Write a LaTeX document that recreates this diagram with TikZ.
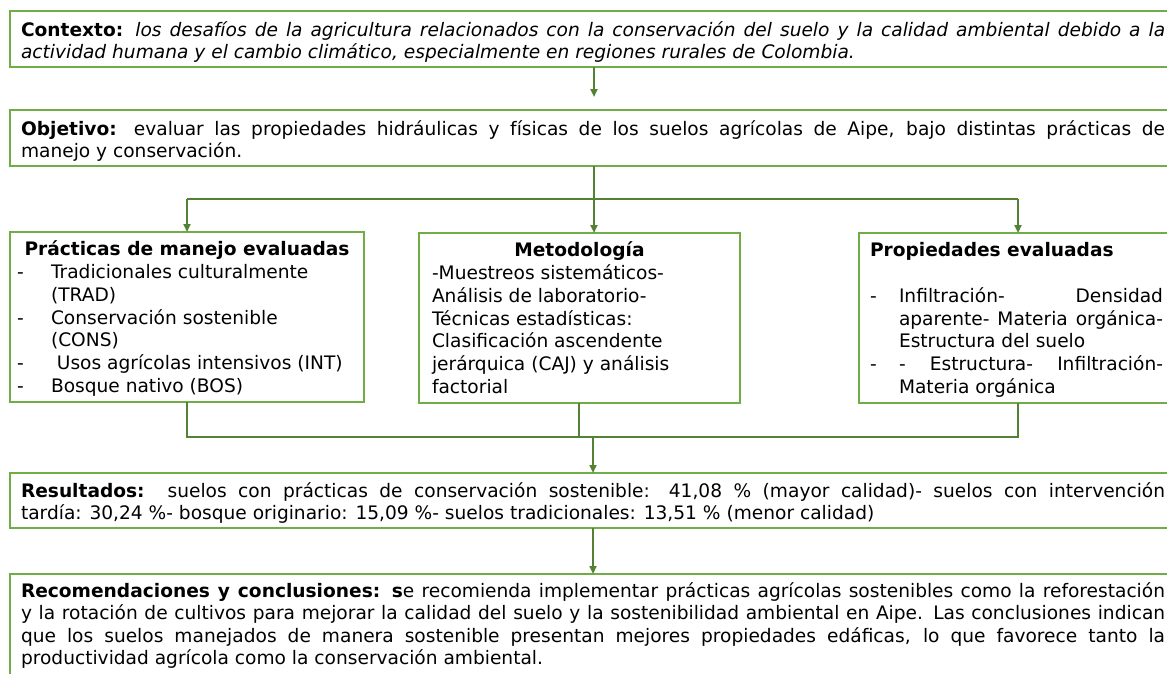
\documentclass[tikz,border=0pt]{standalone}
\usepackage{fontspec}
\setmainfont{DejaVu Sans}
\usetikzlibrary{arrows.meta,calc}
\definecolor{boxg}{RGB}{112,173,71}
\definecolor{lineg}{RGB}{84,130,53}
\newcommand{\bigfont}{\fontsize{18.6}{21}\selectfont}
\newcommand{\smallfont}{\fontsize{18.6}{22.8}\selectfont}
\newcommand{\bigtopstrut}{\rule{0pt}{22.7pt}}
\newcommand{\smalltopstrut}{\rule{0pt}{21pt}}
\newcommand{\jline}[1]{\makebox[1144pt][s]{\strut #1}}
\newcommand{\pline}[1]{\makebox[264pt][s]{\strut #1}}
\newcommand{\dsh}{\hspace*{3pt}\makebox[34pt][l]{\strut -}}
\newcommand{\ind}{\hspace*{37pt}\strut}
\newcommand{\pdsh}{\makebox[29pt][l]{\strut -}}
\newcommand{\pind}{\hspace*{29pt}\strut}
\begin{document}
\begin{tikzpicture}[x=1pt,y=-1pt,
  box/.style={draw=boxg,line width=2pt,fill=white,anchor=north west,
    inner ysep=0pt,outer sep=0pt,align=left},
  bigbox/.style={box,inner xsep=11pt,minimum width=1166pt,font=\bigfont},
  smallbox/.style={box,font=\smallfont,minimum height=170pt},
  conn/.style={draw=lineg,line width=2pt},
  arr/.style={conn,-{Triangle[length=8pt,width=7pt]}}]
\useasboundingbox (0,0) rectangle (1167,673);
\fill[white] (0,0) rectangle (1167,673);
\clip (0,0) rectangle (1167,673);

\node[bigbox,minimum height=56pt] (ctx) at (10,11) {%
\bigtopstrut\jline{\textbf{Contexto:} \textit{los desafíos de la agricultura relacionados con la conservación del suelo y la calidad ambiental debido a la}}\\
\strut\textit{actividad humana y el cambio climático, especialmente en regiones rurales de Colombia.}};

\node[bigbox,minimum height=56pt] (obj) at (10,110) {%
\bigtopstrut\jline{\textbf{Objetivo:} evaluar las propiedades hidráulicas y físicas de los suelos agrícolas de Aipe, bajo distintas prácticas de}\\
\strut manejo y conservación.};

\node[smallbox,inner xsep=4pt,minimum width=354pt] (prac) at (10,232) {%
\smalltopstrut\makebox[346pt][c]{\strut\textbf{Prácticas de manejo evaluadas}}\\
\dsh Tradicionales culturalmente\\
\ind (TRAD)\\
\dsh Conservación sostenible\\
\ind (CONS)\\
\dsh\ Usos agrícolas intensivos (INT)\\
\dsh Bosque nativo (BOS)};

\node[smallbox,inner xsep=13pt,minimum width=321pt] (met) at (419,233) {%
\smalltopstrut\makebox[295pt][c]{\strut\textbf{Metodología}}\\
\strut -Muestreos sistemáticos-\\
\strut Análisis de laboratorio-\\
\strut Técnicas estadísticas:\\
\strut Clasificación ascendente\\
\strut jerárquica (CAJ) y análisis\\
\strut factorial};

\node[smallbox,inner xsep=11pt,minimum width=315pt] (prop) at (859,233) {%
\smalltopstrut\strut\textbf{Propiedades evaluadas}\\
\strut\\
\pdsh\pline{Infiltración- Densidad}\\
\pind\pline{aparente- Materia orgánica-}\\
\pind Estructura del suelo\\
\pdsh\pline{- Estructura- Infiltración-}\\
\pind Materia orgánica};

\node[bigbox,minimum height=55pt] (res) at (10,473) {%
\bigtopstrut\jline{\textbf{Resultados:}\ \ suelos con prácticas de conservación sostenible: 41,08 \% (mayor calidad)- suelos con intervención}\\
\strut tardía: 30,24 \%- bosque originario: 15,09 \%- suelos tradicionales: 13,51 \% (menor calidad)};

\node[bigbox,inner ysep=1pt] (rec) at (10,574) {%
\bigtopstrut\jline{\textbf{Recomendaciones y conclusiones: s}e recomienda implementar prácticas agrícolas sostenibles como la reforestación}\\
\jline{y la rotación de cultivos para mejorar la calidad del suelo y la sostenibilidad ambiental en Aipe. Las conclusiones indican}\\
\jline{que los suelos manejados de manera sostenible presentan mejores propiedades edáficas, lo que favorece tanto la}\\
\strut productividad agrícola como la conservación ambiental.\\
\strut};

% column coordinates
\coordinate (cx) at (594,0);
\coordinate (px) at (187,0);
\coordinate (mx) at (579,0);
\coordinate (qx) at (1018,0);
\coordinate (jt) at (594,199);
\coordinate (jb) at (593,437);

\draw[arr] (ctx.south -| cx) -- ($(obj.north -| cx)+(0,-13)$);
\draw[conn] (obj.south -| cx) -- (jt);
\draw[conn] (jt -| px) -- (jt -| qx);
\draw[arr] (jt -| px) -- (prac.north -| px);
\draw[arr] (jt) -- (met.north -| jt);
\draw[arr] (jt -| qx) -- (prop.north -| qx);

\draw[conn] (prac.south -| px) -- (jb -| px) -- (jb -| qx) -- (prop.south -| qx);
\draw[conn] (met.south -| mx) -- (jb -| mx);
\draw[arr] (jb) -- (res.north -| jb);
\draw[arr] (res.south -| jb) -- (rec.north -| jb);
\end{tikzpicture}
\end{document}
